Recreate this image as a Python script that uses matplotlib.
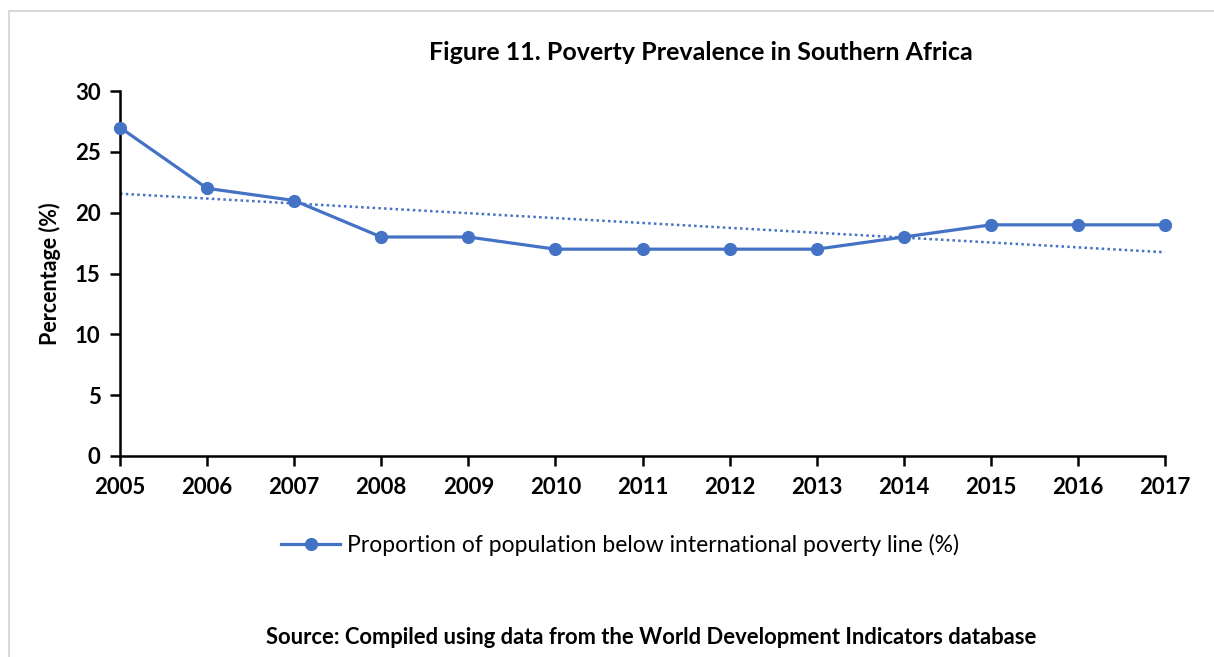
import numpy as np
import matplotlib.pyplot as plt
from matplotlib.patches import Rectangle

years = [2005, 2006, 2007, 2008, 2009, 2010, 2011, 2012, 2013, 2014, 2015, 2016, 2017]
poverty = [27, 22, 21, 18, 18, 17, 17, 17, 17, 18, 19, 19, 19]

plt.rcParams['font.family'] = ['Lato', 'DejaVu Sans']
blue = '#4472C4'

fig = plt.figure(figsize=(12.14, 6.57), dpi=100)
ax = fig.add_axes([120 / 1214, 1 - 456 / 657, (1165 - 120) / 1214, (456 - 91) / 657])

# chart area border (light grey, Excel style)
fig.patches.append(Rectangle((9 / 1214, -0.1), 1.2, 1 - 11 / 657 + 0.1, transform=fig.transFigure,
                             fill=False, edgecolor='#d9d9d9', linewidth=1.5))

line, = ax.plot(years, poverty, color=blue, linewidth=2.3, marker='o', markersize=8.5,
                label='Proportion of population below international poverty line (%)', clip_on=False, zorder=3)

# linear trendline
coef = np.polyfit(years, poverty, 1)
ax.plot(years, np.polyval(coef, years), color=blue, linestyle=(0, (1, 1.3)), linewidth=1.8, zorder=2)

ax.set_xlim(2005, 2017)
ax.set_ylim(0, 30)
ax.set_xticks(years)
ax.set_yticks(range(0, 31, 5))
for s in ['top', 'right']:
    ax.spines[s].set_visible(False)
for s in ['left', 'bottom']:
    ax.spines[s].set_linewidth(1.8)
ax.tick_params(direction='out', length=7, width=1.8, labelsize=16, pad=8)
ax.tick_params(axis='y', pad=7)
for lab in ax.get_xticklabels() + ax.get_yticklabels():
    lab.set_fontweight('bold')
ax.set_ylabel('Percentage (%)', fontsize=15.5, fontweight='bold', labelpad=10)

fig.text(701 / 1214, 1 - 53 / 657, 'Figure 11. Poverty Prevalence in Southern Africa',
         ha='center', va='center', fontsize=18, fontweight='bold')

fig.legend(handles=[line], loc='center', bbox_to_anchor=(620 / 1214, 1 - 545 / 657),
           frameon=False, fontsize=16.5, handlelength=2.6, handletextpad=0.3)

fig.text(651 / 1214, 1 - 637 / 657, 'Source: Compiled using data from the World Development Indicators database',
         ha='center', va='center', fontsize=15.8, fontweight='bold')

fig.savefig('out.png', dpi=100)
